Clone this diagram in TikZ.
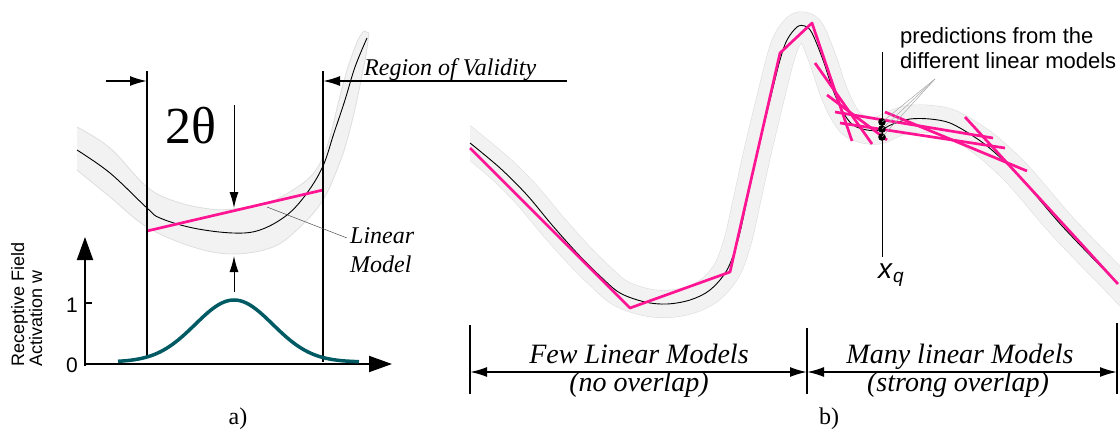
\documentclass[tikz,border=0pt]{standalone}
\usepackage{fontspec}
\setmainfont{Liberation Serif}
\setsansfont{Liberation Sans}
\usetikzlibrary{arrows.meta}
\definecolor{pinkline}{RGB}{255,20,147}
\definecolor{tealc}{RGB}{0,90,100}
\definecolor{bandfill}{RGB}{242,242,242}
\definecolor{bandedge}{RGB}{222,222,222}
\begin{document}
\begin{tikzpicture}[x=1pt,y=-1pt,line join=round,
  thickline/.style={line width=2pt},
  dimarrow/.style={line width=1.8pt,-{Latex[length=17pt,width=10pt]}},
  dimboth/.style={line width=1.8pt,{Latex[length=17pt,width=10pt]}-{Latex[length=17pt,width=10pt]}},
  thinarrow/.style={line width=1pt,-{Latex[length=16pt,width=9pt]}},
  axisarrow/.style={line width=2pt,-{Triangle[length=23pt,width=16pt]}},
  model/.style={pinkline,line width=2.7pt},
  curve/.style={black,line width=0.9pt},
  leader/.style={gray,line width=0.5pt},
  serlbl/.style={inner sep=0pt,font=\fontsize{24}{28}\selectfont\itshape},
  biglbl/.style={inner sep=0pt,font=\fontsize{28}{32}\selectfont\itshape},
  sanslbl/.style={inner sep=0pt,font=\sffamily\fontsize{21}{25}\selectfont},
  predlbl/.style={inner sep=0pt,font=\sffamily\fontsize{22}{25}\selectfont},
  caption/.style={inner sep=0pt,font=\fontsize{24}{28}\selectfont}
]
\useasboundingbox (0,0) rectangle (1120,431);

% ---------------- panel a ----------------
\fill[bandfill] plot[smooth,tension=0.6] coordinates {(77,127) (110,148) (147,187) (177,202) (210,209) (233,209) (267,203) (293,190) (312,175) (323,157) (331,133) (339,100) (348,67) (358,40) (364,31)}
  -- plot[smooth,tension=0.6] coordinates {(369,33) (366,55) (362,75) (357,100) (349,133) (340,162) (323,200) (300,227) (273,247) (233,254) (193,247) (147,227) (110,197) (77,170)} -- cycle;
\draw[bandedge,line width=0.8pt] plot[smooth,tension=0.6] coordinates {(77,127) (110,148) (147,187) (177,202) (210,209) (233,209) (267,203) (293,190) (312,175) (323,157) (331,133) (339,100) (348,67) (358,40) (364,31)}
  -- plot[smooth,tension=0.6] coordinates {(369,33) (366,55) (362,75) (357,100) (349,133) (340,162) (323,200) (300,227) (273,247) (233,254) (193,247) (147,227) (110,197) (77,170)};
\draw[curve] plot[smooth,tension=0.6] coordinates {(77,150) (110,173) (147,208) (160,218) (193,228) (233,233) (260,230) (287,215) (307,193) (323,166) (334,133) (345,100) (355,67) (367,38)};

\coordinate (lmA) at (147,231);
\coordinate (lmB) at (323,190);
\draw[model] (lmA) -- (lmB);

\coordinate (vlTop) at (147,71);  \coordinate (vlBot) at (147,358);
\coordinate (vrTop) at (323,71);  \coordinate (vrBot) at (323,362);
\draw[thickline] (vlTop) -- (vlBot);
\draw[thickline] (vrTop) -- (vrBot);
\coordinate (raL0) at (106,81); \coordinate (raL1) at (147,81);
\coordinate (raR0) at (567,81); \coordinate (raR1) at (323,81);
\draw[dimarrow] (raL0) -- (raL1);
\draw[dimarrow] (raR0) -- (raR1);
\node[serlbl,anchor=base west] (rov) at (364,75) {Region of Validity};

\node[inner sep=0pt,anchor=base west,font=\fontsize{52}{56}\selectfont] (theta) at (165,143) {2θ};
\coordinate (dA0) at (234,105); \coordinate (dA1) at (234,208);
\coordinate (uA0) at (234,292); \coordinate (uA1) at (234,256);
\draw[thinarrow] (dA0) -- (dA1);
\draw[thinarrow] (uA0) -- (uA1);

\node[serlbl,anchor=base west] (lin1) at (350,243) {Linear};
\node[serlbl,anchor=base west] (lin2) at (350,272) {Model};
\coordinate (lmLead) at (267,207);
\coordinate (lmLeadEnd) at (347,238);
\draw[leader,black!70] (lmLead) -- (lmLeadEnd);

\coordinate (origin) at (85,364);
\coordinate (ybase) at (85,366);
\coordinate (ytip) at (85,237);
\coordinate (xtip) at (392,364);
\draw[axisarrow] (ybase) -- (ytip);
\draw[axisarrow] (origin) -- (xtip);
\coordinate (tick0) at (85,303); \coordinate (tick1) at (92,303);
\draw[line width=1.5pt] (tick0) -- (tick1);
\node[sanslbl,anchor=base east] (one) at (78,312) {1};
\node[sanslbl,anchor=base east] (zero) at (78,372) {0};
\node[inner sep=0pt,rotate=90,anchor=north west,align=left,font=\sffamily\fontsize{18}{14.5}\selectfont] (ylab) at (11,367) {Receptive Field\\Activation w};

\draw[tealc,line width=3.5pt,domain=118:359,samples=90] plot (\x,{362-62*exp(-((\x-234)/38.8)^2/2)});

\node[caption,anchor=base] (capa) at (238,424) {a)};

% ---------------- panel b ----------------
\begin{scope}
\clip (470,0) rectangle (1120,431);
\draw[bandedge,line width=28pt] plot[smooth,tension=0.55] coordinates {(460,135) (470,143) (500,168) (527,195) (552,225) (577,253) (600,276) (620,293) (645,302) (667,304) (690,300) (710,290) (727,270) (738,240) (747,200) (758,150) (770,100) (780,60) (787,40) (797,27) (805,26) (812,33) (823,60) (833,90) (843,112) (853,125) (867,130) (880,130) (893,124) (910,119) (930,119) (950,123) (973,136) (993,151) (1020,177) (1063,227) (1117,283) (1130,297)};
\draw[bandfill,line width=26.8pt] plot[smooth,tension=0.55] coordinates {(460,135) (470,143) (500,168) (527,195) (552,225) (577,253) (600,276) (620,293) (645,302) (667,304) (690,300) (710,290) (727,270) (738,240) (747,200) (758,150) (770,100) (780,60) (787,40) (797,27) (805,26) (812,33) (823,60) (833,90) (843,112) (853,125) (867,130) (880,130) (893,124) (910,119) (930,119) (950,123) (973,136) (993,151) (1020,177) (1063,227) (1117,283) (1130,297)};
\end{scope}
\draw[curve] plot[smooth,tension=0.55] coordinates {(470,143) (500,168) (527,195) (552,225) (577,253) (600,276) (620,293) (645,302) (667,304) (690,300) (710,290) (727,270) (738,240) (747,200) (758,150) (770,100) (780,60) (787,40) (797,27) (805,26) (812,33) (823,60) (833,90) (843,112) (853,125) (867,130) (880,130) (893,124) (910,119) (930,119) (950,123) (973,136) (993,151) (1020,177) (1063,227) (1117,283)};

\draw[model] (470,148) -- (630,308) -- (730,272) -- (780,53) -- (812,23) -- (852,141);
\draw[model] (815,63) -- (872,144);
\draw[model] (827,95) -- (887,140);
\draw[model] (835,112) -- (993,138);
\draw[model] (840,123) -- (1005,148);
\draw[model] (885,112) -- (1027,171);
\draw[model] (965,117) -- (1118,284);

\coordinate (xqTop) at (882,52);
\coordinate (xqBot) at (882,257);
\draw[black,line width=1pt] (xqTop) -- (xqBot);
\node[inner sep=0pt,anchor=base west,font=\sffamily\fontsize{28}{30}\selectfont] (xq) at (878,278) {\textit{x}{\fontsize{19}{20}\selectfont\raisebox{-4pt}{\textit{q}}}};

\coordinate (p1) at (882,122);
\coordinate (p2) at (882,129);
\coordinate (p3) at (882,137);
\fill (p1) circle (3.8);
\fill (p2) circle (3.8);
\fill (p3) circle (3.8);
\coordinate (predlead) at (935,79);
\draw[leader,gray!70] (predlead) -- (p1);
\draw[leader,gray!70] (predlead) -- (p2);
\draw[leader,gray!70] (predlead) -- (p3);
\node[predlbl,anchor=base west] (pred1) at (900,43) {predictions from the};
\node[predlbl,anchor=base west] (pred2) at (900,68) {different linear models};

\coordinate (b1t) at (470,325); \coordinate (b1b) at (470,394);
\coordinate (b2t) at (807,328); \coordinate (b2b) at (807,394);
\coordinate (b3t) at (1117,323); \coordinate (b3b) at (1117,394);
\draw[thickline] (b1t) -- (b1b);
\draw[thickline] (b2t) -- (b2b);
\draw[thickline] (b3t) -- (b3b);
\coordinate (a1) at (470,372); \coordinate (a2) at (807,372); \coordinate (a3) at (1117,372);
\draw[dimboth] (a1) -- (a2);
\draw[dimboth] (a2) -- (a3);
\node[biglbl,anchor=base] (few) at (639,363) {Few Linear Models};
\node[biglbl,anchor=base] (few2) at (639,391) {(no overlap)};
\node[biglbl,anchor=base] (many) at (960,363) {Many linear Models};
\node[biglbl,anchor=base] (many2) at (958,391) {(strong overlap)};

\node[caption,anchor=base] (capb) at (829,424) {b)};
\end{tikzpicture}
\end{document}
